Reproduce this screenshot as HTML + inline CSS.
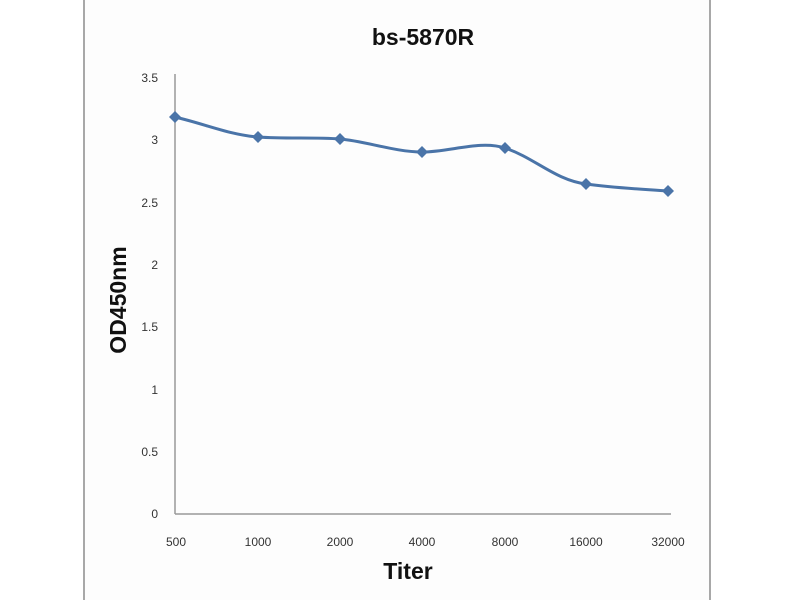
<!DOCTYPE html>
<html><head><style>body{margin:0;background:#fff}</style></head><body>
<svg width="800" height="600" xmlns="http://www.w3.org/2000/svg" font-family="Liberation Sans, sans-serif">
<rect x="0" y="0" width="800" height="600" fill="#fff"/>
<rect x="84" y="-2" width="626" height="610" fill="#fdfdfd" stroke="#a8a8a8" stroke-width="2"/>
<text x="423" y="45" font-size="23" font-weight="bold" text-anchor="middle" fill="#111">bs-5870R</text>
<line x1="175" y1="74" x2="175" y2="514" stroke="#999" stroke-width="1.5"/>
<line x1="175" y1="514" x2="671" y2="514" stroke="#999" stroke-width="1.5"/>
<g font-size="12" fill="#333" text-anchor="end">
<text x="158" y="518">0</text><text x="158" y="456">0.5</text><text x="158" y="394">1</text>
<text x="158" y="331">1.5</text><text x="158" y="269">2</text><text x="158" y="207">2.5</text>
<text x="158" y="144">3</text><text x="158" y="82">3.5</text></g>
<g font-size="12" fill="#333" text-anchor="middle">
<text x="176" y="546">500</text><text x="258" y="546">1000</text><text x="340" y="546">2000</text>
<text x="422" y="546">4000</text><text x="505" y="546">8000</text><text x="586" y="546">16000</text><text x="668" y="546">32000</text></g>
<text x="408" y="579" font-size="23" font-weight="bold" text-anchor="middle" fill="#111">Titer</text>
<text transform="translate(126,300) rotate(-90)" font-size="23" font-weight="bold" text-anchor="middle" fill="#111">OD450nm</text>
<path d="M175,117 C205,124 230,135 258,137 C285,139 315,137 340,139 C365,141 395,152 422,152 C450,152 480,140 505,148 C535,158 555,180 586,184 C615,188 640,189 668,191" fill="none" stroke="#4a74a8" stroke-width="3"/>
<g fill="#4a74a8">
<path d="M175,111 l6,6 -6,6 -6,-6z"/><path d="M258,131 l6,6 -6,6 -6,-6z"/><path d="M340,133 l6,6 -6,6 -6,-6z"/>
<path d="M422,146 l6,6 -6,6 -6,-6z"/><path d="M505,142 l6,6 -6,6 -6,-6z"/><path d="M586,178 l6,6 -6,6 -6,-6z"/>
<path d="M668,185 l6,6 -6,6 -6,-6z"/></g>
</svg>
</body></html>
